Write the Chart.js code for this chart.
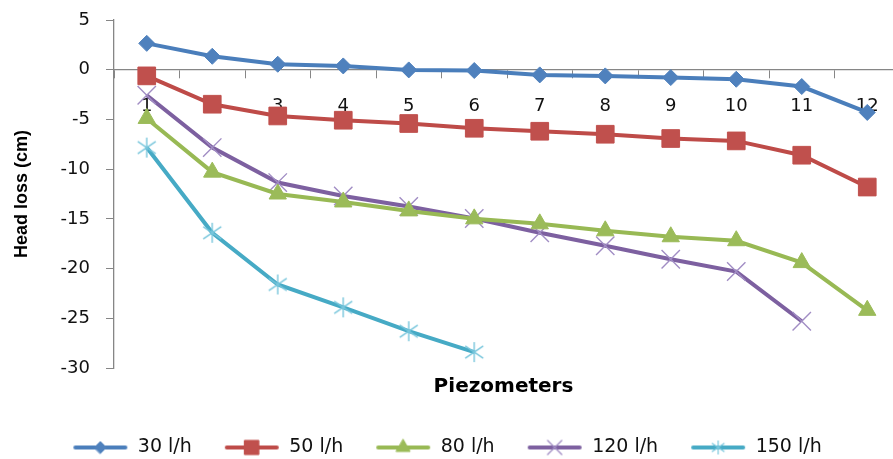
<!DOCTYPE html>
<html>
<head>
<meta charset="utf-8">
<script src="https://cdn.jsdelivr.net/npm/chart.js@4"></script>
<style>
html,body{margin:0;padding:0;background:#ffffff;}
#wrap{width:893px;height:459px;position:relative;}
</style>
</head>
<body>
<div id="wrap"><canvas id="c" width="893" height="459"></canvas></div>
<script>
// ---- data ----
const categories = ['1','2','3','4','5','6','7','8','9','10','11','12'];
const flow30  = [2.65, 1.35, 0.55, 0.38, -0.02, -0.08, -0.52, -0.62, -0.79, -0.96, -1.69, -4.3];
const flow50  = [-0.62, -3.47, -4.65, -5.08, -5.41, -5.89, -6.19, -6.49, -6.92, -7.16, -8.6, -11.8];
const flow80  = [-4.9, -10.3, -12.5, -13.3, -14.2, -15.0, -15.5, -16.2, -16.8, -17.2, -19.4, -24.2];
const flow120 = [-2.57, -7.83, -11.35, -12.7, -13.76, -14.97, -16.4, -17.7, -19.06, -20.3, -25.3];
const flow150 = [-7.83, -16.4, -21.6, -23.9, -26.3, -28.4];
const seriesNames = ['30 l/h', '50 l/h', '80 l/h', '120 l/h', '150 l/h'];
const yMin = -30, yMax = 5, yStep = 5;
const xTitle = 'Piezometers';
const yTitle = 'Head loss (cm)';

// ---- styles ----
const lineColors   = ['#4A7EBB', '#BE4B48', '#98B954', '#7D60A0', '#46AAC5'];
const markerColors = ['#4F81BD', '#C0504D', '#9BBB59', '#A18DC4', '#78C6DC'];
const axisGray = '#868686';
const RIGHT_BLEED = 7; // plot area runs past the right edge of the picture

function asteriskImage(color, size, lw) {
  const c = document.createElement('canvas');
  c.width = size; c.height = size;
  const ctx = c.getContext('2d');
  const m = size / 2, a = size / 2 - 1;
  ctx.strokeStyle = color; ctx.lineWidth = lw;
  ctx.beginPath();
  ctx.moveTo(m, m - a); ctx.lineTo(m, m + a);
  const dx = a * 0.9, dy = a * 0.62;
  ctx.moveTo(m - dx, m - dy); ctx.lineTo(m + dx, m + dy);
  ctx.moveTo(m - dx, m + dy); ctx.lineTo(m + dx, m - dy);
  ctx.stroke();
  return c;
}
const starPoint = asteriskImage(markerColors[4], 22, 1.4);
const starLegend = asteriskImage(markerColors[4], 16, 1.2);

const pointStyles = ['rectRot', 'rect', 'triangle', 'crossRot', starPoint];
const pointRadii  = [8, 12.5, 10, 13, 11];
const legendStyles = ['rectRot', 'rect', 'triangle', 'crossRot', starLegend];
const legendRadii  = [6, 10, 8, 10, 8];

function drawMark(ctx, style, r, x, y, color, bw) {
  ctx.save();
  ctx.fillStyle = color; ctx.strokeStyle = color;
  if (style instanceof HTMLCanvasElement) {
    ctx.drawImage(style, x - style.width / 2, y - style.height / 2);
  } else if (Chart.helpers && Chart.helpers.drawPoint) {
    ctx.lineWidth = bw;
    Chart.helpers.drawPoint(ctx, {pointStyle: style, radius: r, borderWidth: bw, rotation: 0}, x, y);
  }
  ctx.restore();
}

function legendIcon(i) {
  const c = document.createElement('canvas');
  c.width = 56; c.height = 20;
  const ctx = c.getContext('2d');
  ctx.strokeStyle = lineColors[i]; ctx.lineWidth = 4; ctx.lineCap = 'round';
  ctx.beginPath(); ctx.moveTo(3, 10); ctx.lineTo(53, 10); ctx.stroke();
  drawMark(ctx, legendStyles[i], legendRadii[i], 28, 10, markerColors[i], i === 3 ? 1.3 : 1);
  return c;
}

const seriesData = [flow30, flow50, flow80, flow120, flow150];
const datasets = seriesData.map((d, i) => ({
  label: seriesNames[i],
  data: d,
  borderColor: lineColors[i],
  backgroundColor: markerColors[i],
  borderWidth: 4,
  tension: 0,
  pointStyle: pointStyles[i],
  pointRadius: pointRadii[i],
  pointBackgroundColor: markerColors[i],
  pointBorderColor: markerColors[i],
  pointBorderWidth: i === 3 ? 1.4 : 1,
  fill: false
}));

const legendIcons = seriesNames.map((_, i) => legendIcon(i));

// extend the plot area a few pixels past the canvas edge (as in the cropped original)
const bleedPlugin = {
  id: 'bleed',
  afterLayout(chart) {
    const x = chart.scales.x;
    chart.chartArea.right += RIGHT_BLEED;
    chart.chartArea.width += RIGHT_BLEED;
    x.right += RIGHT_BLEED;
    x.width += RIGHT_BLEED;
    x.configure();
  }
};

new Chart(document.getElementById('c'), {
  type: 'line',
  data: { labels: categories, datasets: datasets },
  plugins: [bleedPlugin],
  options: {
    responsive: false,
    animation: false,
    events: [],
    layout: { autoPadding: false, padding: { left: 1, right: 0, top: 20, bottom: -8 } },
    scales: {
      x: {
        type: 'category',
        position: { y: 0 },
        offset: true,
        afterFit: (s) => { s.paddingLeft = 0; s.paddingRight = 0; s.paddingTop = 0; s.paddingBottom = 0; },
        grid: { offset: true, drawOnChartArea: false, drawTicks: true, tickLength: 8, color: axisGray, lineWidth: 1 },
        border: { display: true, color: axisGray, width: 1.3 },
        ticks: { autoSkip: false, maxRotation: 0, padding: 18, color: '#111', font: { family: 'DejaVu Sans', size: 18 } }
      },
      y: {
        min: yMin, max: yMax,
        afterFit: (s) => { s.width = 113; s.paddingTop = 0; s.paddingBottom = 0; s.paddingLeft = 0; s.paddingRight = 0; },
        grid: { drawOnChartArea: false, drawTicks: true, tickLength: 8, color: axisGray, lineWidth: 1 },
        border: { display: true, color: axisGray, width: 1.3 },
        ticks: { stepSize: yStep, padding: 16, color: '#111', font: { family: 'DejaVu Sans', size: 18 } },
        title: { display: true, text: yTitle, color: '#000', padding: { top: 10, bottom: 10 },
                 font: { family: 'Liberation Sans', size: 18, weight: 'bold' } }
      }
    },
    plugins: {
      tooltip: { enabled: false },
      title: {
        display: true, position: 'bottom', text: xTitle, weight: 500, fullSize: false,
        color: '#000', padding: { top: 7, bottom: 7 },
        font: { family: 'DejaVu Sans', size: 20, weight: 'bold' }
      },
      legend: {
        display: true, position: 'bottom',
        labels: {
          usePointStyle: true,
          pointStyleWidth: 56,
          padding: 32,
          color: '#111',
          font: { family: 'DejaVu Sans', size: 19 },
          generateLabels: (chart) => chart.data.datasets.map((ds, i) => ({
            text: ds.label,
            pointStyle: legendIcons[i],
            fillStyle: markerColors[i],
            strokeStyle: lineColors[i],
            lineWidth: 0,
            hidden: false,
            datasetIndex: i,
            fontColor: '#111'
          }))
        }
      }
    }
  }
});
</script>
</body>
</html>
